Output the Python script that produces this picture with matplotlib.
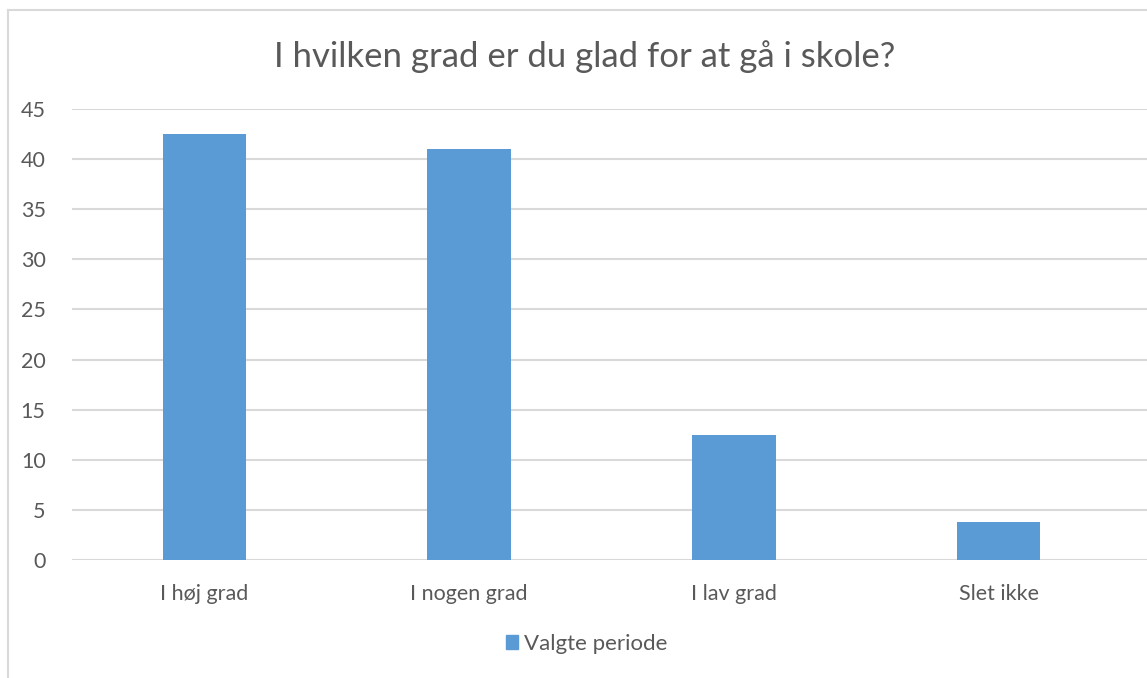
import matplotlib.pyplot as plt
from matplotlib.lines import Line2D
from matplotlib.patches import Patch

# data
categories = ["I høj grad", "I nogen grad", "I lav grad", "Slet ikke"]
values = [42.5, 41.0, 12.5, 3.8]
series_name = "Valgte periode"
title = "I hvilken grad er du glad for at gå i skole?"
yticks = [0, 5, 10, 15, 20, 25, 30, 35, 40, 45]

plt.rcParams['font.family'] = ['Lato', 'DejaVu Sans']
text_col = "#595959"
bar_col = "#5B9BD5"
grid_col = "#D9D9D9"

W, H = 1147, 678
fig = plt.figure(figsize=(W / 100, H / 100), dpi=100)
ax = fig.add_axes([72 / W, 1 - 560 / H, (W - 72) / W, (560 - 109) / H])

x = range(len(categories))
ax.bar(x, values, width=0.315, color=bar_col, zorder=3)

ax.set_ylim(0, 45)
ax.set_xlim(-0.5, 3.56)
ax.set_yticks(yticks)
ax.set_xticks(list(x))
ax.set_xticklabels(categories)
ax.grid(axis='y', color=grid_col, linewidth=1.5, zorder=0)
for s in ax.spines.values():
    s.set_visible(False)
ax.tick_params(axis='both', length=0, colors=text_col, labelsize=15.5)
ax.tick_params(axis='x', pad=17)
ax.tick_params(axis='y', pad=19)

fig.text(585 / W, 1 - 57 / H, title, ha='center', va='center',
         fontsize=25, color=text_col)

leg = fig.legend(handles=[Patch(color=bar_col, label=series_name)],
                 loc='center', bbox_to_anchor=(587 / W, 1 - 644 / H),
                 frameon=False, fontsize=16, handlelength=0.5, handleheight=0.6,
                 handletextpad=0.3)
for t in leg.get_texts():
    t.set_color(text_col)

# chart border (left and top edges visible)
fig.add_artist(Line2D([8 / W, 8 / W], [0, 1 - 10 / H], color="#D9D9D9", lw=1.5))
fig.add_artist(Line2D([8 / W, 1], [1 - 10 / H, 1 - 10 / H], color="#D9D9D9", lw=1.5))

fig.savefig("out.png", dpi=100, facecolor="white")
